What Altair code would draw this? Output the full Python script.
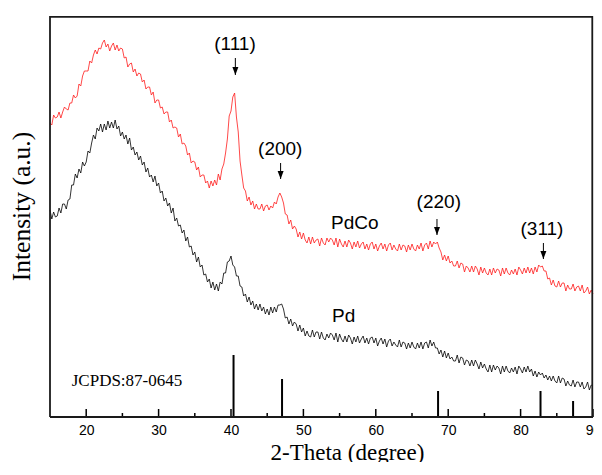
import altair as alt
import pandas as pd

# 2-theta sampling grid (degrees), 0.25 degree steps from 15 to 90
theta = [round(15.0 + 0.25 * i, 2) for i in range(301)]

# PdCo intensity (a.u.; 4 values per degree)
pdco = [
    294, 292, 302, 299,  300, 305, 299, 305,  310, 308, 307, 314,  314, 322, 319, 321,
    333, 331, 341, 346,  346, 346, 356, 354,  362, 367, 363, 369,  368, 374, 377, 370,
    373, 366, 371, 374,  367, 372, 366, 369,  368, 359, 360, 350,  353, 354, 345, 348,
    341, 344, 343, 335,  337, 328, 330, 330,  322, 325, 314, 317,  317, 309, 310, 303,
    305, 305, 295, 297,  289, 290, 289, 280,  283, 273, 274, 271,  262, 264, 254, 256,
    255, 247, 250, 240,  242, 242, 234, 236,  229, 236, 231, 237,  232, 243, 237, 248,
    253, 264, 278, 301,  306, 320, 324, 300,  285, 256, 242, 229,  226, 216, 220, 212,
    216, 208, 213, 208,  208, 213, 206, 211,  212, 207, 211, 209,  215, 213, 220, 224,
    220, 214, 203, 202,  193, 197, 188, 191,  188, 180, 185, 178,  184, 177, 174, 180,
    173, 180, 174, 177,  178, 171, 179, 174,  172, 179, 175, 179,  177, 172, 179, 170,
    178, 173, 170, 176,  170, 177, 174, 168,  175, 170, 176, 169,  173, 175, 168, 173,
    167, 173, 175, 168,  173, 166, 171, 174,  168, 173, 166, 172,  174, 167, 172, 168,
    166, 173, 167, 172,  171, 165, 172, 167,  173, 168, 166, 172,  168, 174, 166, 172,
    174, 168, 176, 170,  175, 173, 175, 169,  165, 157, 162, 156,  161, 154, 156, 151,
    151, 156, 149, 154,  153, 145, 151, 149,  145, 151, 145, 151,  148, 142, 150, 144,
    149, 144, 142, 148,  142, 149, 144, 148,  147, 141, 149, 143,  149, 144, 142, 147,
    143, 148, 142, 150,  147, 143, 149, 144,  150, 144, 149, 143,  150, 145, 152, 150,
    151, 146, 146, 138,  139, 132, 137, 131,  130, 136, 130, 134,  134, 126, 132, 128,
    128, 133, 126, 130,  131, 126, 132, 124,  126, 130, 123, 127,
    123,
]

# Pd intensity (a.u.; 4 values per degree)
pd_int = [
    207, 198, 205, 200,  201, 209, 204, 213,  213, 208, 217, 218,  232, 232, 243, 239,
    248, 244, 255, 251,  255, 266, 264, 274,  282, 278, 289, 286,  293, 285, 293, 287,
    296, 289, 295, 289,  297, 288, 291, 281,  285, 278, 282, 273,  279, 267, 270, 262,
    265, 257, 261, 252,  255, 245, 249, 240,  242, 235, 241, 231,  234, 224, 226, 216,
    219, 211, 214, 204,  209, 196, 199, 191,  192, 184, 187, 176,  180, 170, 171, 162,
    165, 155, 160, 150,  152, 142, 143, 135,  138, 129, 135, 127,  133, 126, 135, 133,
    144, 144, 155, 156,  161, 152, 150, 141,  141, 131, 130, 121,  123, 115, 120, 112,
    116, 108, 113, 107,  113, 106, 110, 103,  108, 102, 110, 104,  110, 105, 112, 112,
    113, 108, 99, 100,   93, 98, 91, 95,     93, 86, 92, 85,      89, 81, 86, 81,
    80, 87, 80, 85,      85, 78, 85, 79,     77, 83, 79, 84,      82, 77, 84, 75,
    83, 78, 75, 81,      75, 82, 79, 73,     80, 75, 81, 74,      78, 81, 74, 79,
    73, 79, 80, 74,      79, 71, 76, 79,     73, 78, 70, 76,      78, 71, 75, 72,
    70, 77, 70, 75,      74, 68, 74, 69,     75, 70, 68, 74,      69, 75, 68, 74,
    75, 69, 77, 71,      75, 69, 69, 63,     67, 60, 66, 59,      64, 58, 60, 56,
    56, 62, 54, 60,      59, 52, 57, 56,     51, 57, 51, 57,      53, 48, 55, 49,
    53, 48, 45, 52,      45, 52, 47, 51,     49, 43, 51, 45,      51, 46, 44, 49,
    45, 50, 43, 51,      48, 44, 50, 45,     51, 45, 48, 41,      46, 40, 45, 42,
    44, 39, 42, 37,      41, 36, 41, 36,     34, 41, 34, 39,      38, 31, 36, 32,
    31, 37, 30, 35,      35, 30, 35, 28,     30, 35, 27, 32,
    31,
]

# JCPDS 87-0645 reference sticks
ref_theta = [40.35, 47.05, 68.6, 82.75, 87.25]
ref_height = [62, 38, 26, 26, 16]

# axis ticks
major_ticks = [20, 30, 40, 50, 60, 70, 80, 90]
minor_ticks = [25, 35, 45, 55, 65, 75, 85]

# peak annotations
peak_labels = ["(111)", "(200)", "(220)", "(311)"]
peak_label_x = [40.55, 46.8, 68.7, 82.95]
peak_label_y = [373, 268, 215, 188]
arrow_x = [40.6, 46.85, 68.45, 83.15]
arrow_top = [359, 254, 198, 174]
arrow_tip = [342, 238, 182, 158]

sample_labels = ["PdCo", "Pd"]
sample_x = [57.1, 55.55]
sample_y = [194, 101]

card_label = ["JCPDS:87-0645"]
card_x = [18.0]
card_y = [36]

# plot frame: data limits, with top / right edges drawn just inside the range
x_lo, x_hi = 15, 90
y_lo, y_hi = 0, 401
frame_x = [x_lo, 89.9, x_lo, x_lo]
frame_x2 = [x_lo, 89.9, x_hi, x_hi]
frame_y = [y_lo, y_lo, 400.2, y_lo]
frame_y2 = [y_hi, y_hi, 400.2, y_lo]

xs = alt.Scale(domain=[x_lo, x_hi], nice=False, zero=False)
ys = alt.Scale(domain=[y_lo, y_hi], nice=False, zero=False)

curves = pd.DataFrame({"theta": theta, "PdCo": pdco, "Pd": pd_int})

x_axis = alt.Axis(values=major_ticks, format="d", labelFont="Liberation Sans",
                  labelFontSize=14, labelColor="black", labelPadding=6,
                  labelFlush=False, labelOverlap=False, labelBound=False,
                  ticks=False, domain=False, grid=False,
                  title="2-Theta (degree)", titleFont="Liberation Serif",
                  titleFontSize=23, titleFontWeight="normal", titleColor="black",
                  titleX=297, titleY=42, titleBaseline="alphabetic", titleAlign="center")
y_axis = alt.Axis(labels=False, ticks=False, domain=False, grid=False,
                  title="Intensity (a.u.)", titleFont="Liberation Serif",
                  titleFontSize=25.5, titleFontWeight="normal", titleColor="black",
                  titleX=-21, titleY=190, titleBaseline="alphabetic",
                  titleAlign="center", titleAngle=270)


def X(field):
    return alt.X(field, scale=xs, axis=x_axis, title="2-Theta (degree)")


def Y(field):
    return alt.Y(field, scale=ys, axis=y_axis, title="Intensity (a.u.)")


frame_df = pd.DataFrame({"theta": frame_x, "x2": frame_x2, "y1": frame_y, "y2": frame_y2})
frame = alt.Chart(frame_df).mark_rule(color="#1a1a1a", strokeWidth=1.8).encode(
    x=X("theta:Q"), x2="x2:Q", y=Y("y1:Q"), y2="y2:Q",
)

red_line = alt.Chart(curves).mark_line(color="#ff1a1a", strokeWidth=0.8).encode(
    x=X("theta:Q"), y=Y("PdCo:Q"),
)
black_line = alt.Chart(curves).mark_line(color="black", strokeWidth=0.8).encode(
    x=X("theta:Q"), y=Y("Pd:Q"),
)

sticks_df = pd.DataFrame({"theta": ref_theta, "h": ref_height, "base": [0] * len(ref_theta)})
sticks = alt.Chart(sticks_df).mark_rule(color="black", strokeWidth=2).encode(
    x=X("theta:Q"), y=Y("base:Q"), y2="h:Q",
)

ticks_df = pd.DataFrame({
    "theta": major_ticks + minor_ticks,
    "len": [8] * len(major_ticks) + [4] * len(minor_ticks),
    "base": [0] * (len(major_ticks) + len(minor_ticks)),
})
tick_marks = alt.Chart(ticks_df).mark_rule(color="black", strokeWidth=1.5).encode(
    x=X("theta:Q"), y=Y("base:Q"), y2="len:Q",
)

ann_df = pd.DataFrame({"label": peak_labels, "lx": peak_label_x, "ly": peak_label_y,
                       "ax": arrow_x, "atop": arrow_top, "atip": arrow_tip})
ann_text = alt.Chart(ann_df).mark_text(font="Liberation Sans", fontSize=19, color="black",
                                       align="center", baseline="middle").encode(
    x=X("lx:Q"), y=Y("ly:Q"), text="label:N",
)
arrow_shaft = alt.Chart(ann_df).mark_rule(color="black", strokeWidth=1).encode(
    x=X("ax:Q"), y=Y("atop:Q"), y2="atip:Q",
)
arrow_head = alt.Chart(ann_df).mark_point(
    shape="M-0.75,-2L0.75,-2L0,0Z", size=64, filled=True, color="black", opacity=1,
    strokeWidth=0).encode(
    x=X("ax:Q"), y=Y("atip:Q"),
)

samp_df = pd.DataFrame({"label": sample_labels, "x": sample_x, "y": sample_y})
samp_text = alt.Chart(samp_df).mark_text(font="Liberation Sans", fontSize=19, color="black",
                                         align="center", baseline="middle").encode(
    x=X("x:Q"), y=Y("y:Q"), text="label:N",
)

card_df = pd.DataFrame({"label": card_label, "x": card_x, "y": card_y})
card_text = alt.Chart(card_df).mark_text(font="Liberation Serif", fontSize=17, color="black",
                                         align="left", baseline="middle").encode(
    x=X("x:Q"), y=Y("y:Q"), text="label:N",
)

chart = alt.layer(
    red_line, black_line, sticks, tick_marks, arrow_shaft, arrow_head,
    ann_text, samp_text, card_text, frame,
).properties(
    width=543, height=401,
    autosize=alt.AutoSizeParams(type="none"),
    padding={"left": 42, "top": 8, "right": 1, "bottom": 45},
    background="white",
).configure_view(strokeWidth=0)

chart.save("out.html", embed_options={"renderer": "svg", "actions": False})
